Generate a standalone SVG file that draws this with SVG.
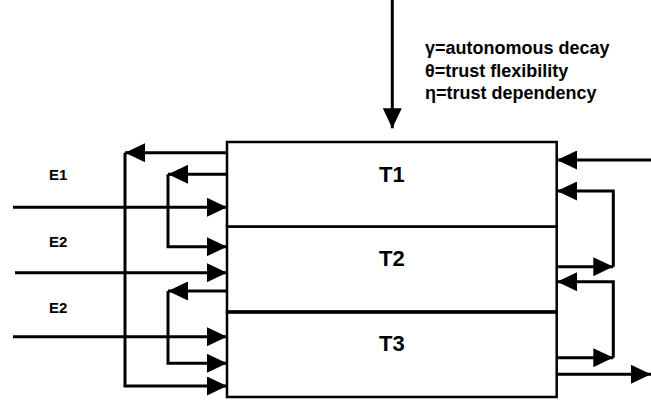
<svg xmlns="http://www.w3.org/2000/svg" width="651" height="400" viewBox="0 0 651 400">
<style>
.box{fill:#fff;stroke:#000;stroke-width:2.5}
.lbl{font-family:"Liberation Sans",Arial,sans-serif;font-weight:bold;fill:#000}
.t{font-size:22px;text-anchor:middle}
.e{font-size:15px}
.leg{font-size:18px}
.c{fill:none;stroke:#000;stroke-width:3}
.a{marker-end:url(#ah)}
</style>
<defs>
<marker id="ah" viewBox="0 0 20 19" refX="20" refY="9.5" markerWidth="20" markerHeight="19" markerUnits="userSpaceOnUse" orient="auto">
<path d="M0,0 L20,9.5 L0,19 z" fill="#000"/>
</marker>
</defs>
<rect width="651" height="400" fill="#fff"/>
<g id="T1"><rect class="box" x="227" y="142" width="329.7" height="84.7"/><text class="lbl t" x="391.8" y="181.7">T1</text></g>
<g id="T2"><rect class="box" x="227" y="226.7" width="329.7" height="85.3"/><text class="lbl t" x="391.8" y="266">T2</text></g>
<g id="T3"><rect class="box" x="227" y="312" width="329.7" height="85"/><line x1="227" y1="312" x2="556.7" y2="312" stroke="#000" stroke-width="3.5"/><text class="lbl t" x="391.8" y="351">T3</text></g>
<g id="labels">
<text class="lbl e" x="49" y="180">E1</text>
<text class="lbl e" x="49" y="247">E2</text>
<text class="lbl e" x="49" y="313">E2</text>
<text class="lbl leg" x="425" y="54">γ=autonomous decay</text>
<text class="lbl leg" x="425" y="76.5">θ=trust flexibility</text>
<text class="lbl leg" x="425" y="99">η=trust dependency</text>
</g>
<g id="connectors">
<path class="c a" d="M392.3,0 V128.3"/>
<path class="c a" d="M227,152.7 H125"/>
<path class="c a" d="M125,152.7 V386 H227"/>
<path class="c a" d="M227,174.3 H168"/>
<path class="c a" d="M168,174.3 V246.7 H227"/>
<path class="c a" d="M227,291 H168"/>
<path class="c a" d="M168,291 V363.3 H227"/>
<path class="c a" d="M13,207.3 H227"/>
<path class="c a" d="M15,272.7 H227"/>
<path class="c a" d="M13,336.7 H227"/>
<path class="c a" d="M651,160 H557"/>
<path class="c a" d="M557,266.7 H613.3"/>
<path class="c a" d="M613.3,266.7 V191 H557"/>
<path class="c a" d="M557,357.7 H613.3"/>
<path class="c a" d="M613.3,357.7 V281.7 H557"/>
<path class="c a" d="M557,374.3 H651"/>
</g>
</svg>
